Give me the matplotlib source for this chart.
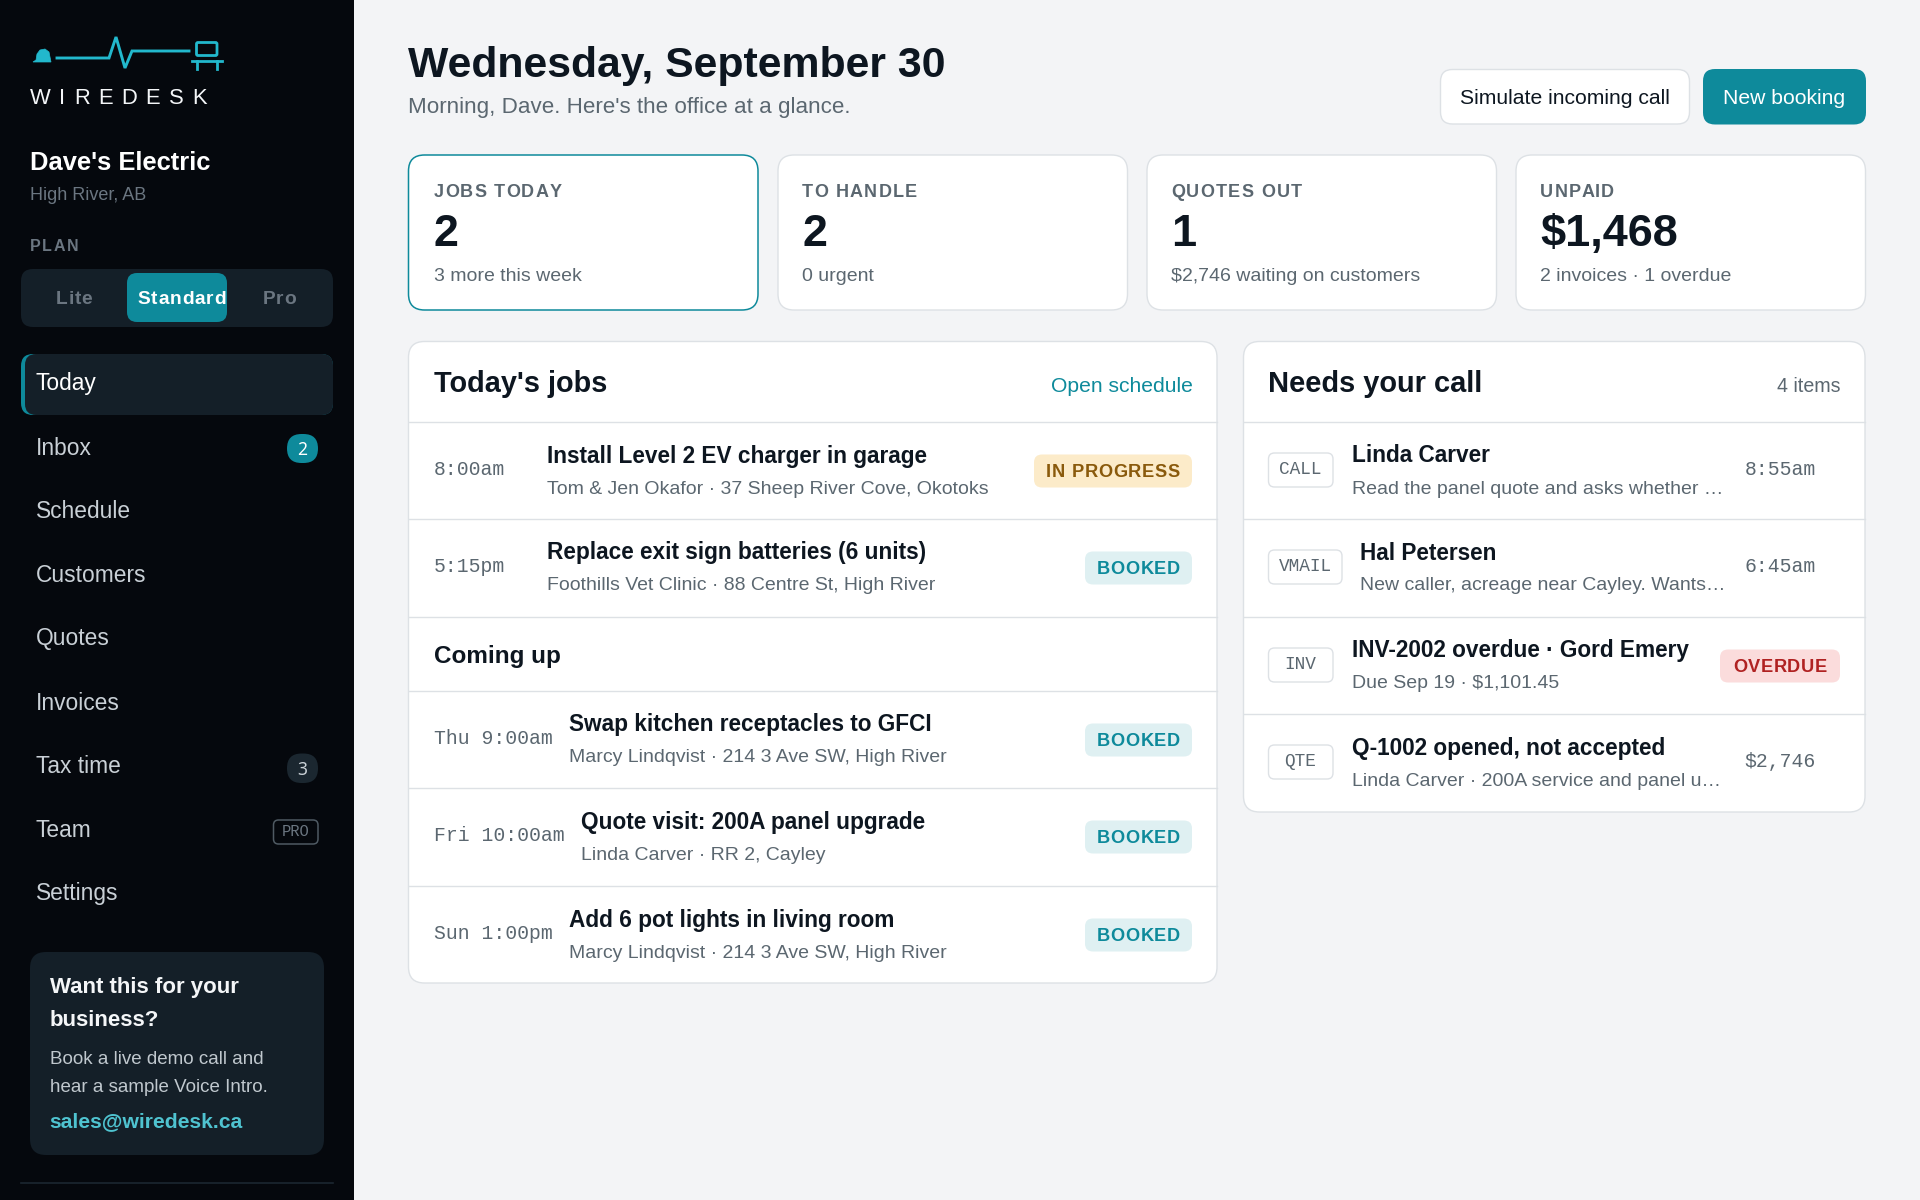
from matplotlib.patches import FancyBboxPatch, Polygon
from matplotlib.font_manager import FontProperties
import matplotlib.pyplot as plt

# text content of the screen
nav_labels = ['Today', 'Inbox', 'Schedule', 'Customers', 'Quotes', 'Invoices', 'Tax time', 'Team', 'Settings']
plan_labels = ['Lite', 'Standard', 'Pro']
stat_labels = ['JOBS TODAY', 'TO HANDLE', 'QUOTES OUT', 'UNPAID']
stat_values = ['2', '2', '1', '$1,468']
stat_subs = ['3 more this week', '0 urgent', '$2,746 waiting on customers', '2 invoices · 1 overdue']

today_times = ['8:00am', '5:15pm']
today_titles = ['Install Level 2 EV charger in garage', 'Replace exit sign batteries (6 units)']
today_subs = ['Tom & Jen Okafor · 37 Sheep River Cove, Okotoks', 'Foothills Vet Clinic · 88 Centre St, High River']
today_status = ['IN PROGRESS', 'BOOKED']

later_times = ['Thu 9:00am', 'Fri 10:00am', 'Sun 1:00pm']
later_titles = ['Swap kitchen receptacles to GFCI', 'Quote visit: 200A panel upgrade', 'Add 6 pot lights in living room']
later_subs = ['Marcy Lindqvist · 214 3 Ave SW, High River', 'Linda Carver · RR 2, Cayley', 'Marcy Lindqvist · 214 3 Ave SW, High River']
later_status = ['BOOKED', 'BOOKED', 'BOOKED']

call_tags = ['CALL', 'VMAIL', 'INV', 'QTE']
call_titles = ['Linda Carver', 'Hal Petersen', 'INV-2002 overdue · Gord Emery', 'Q-1002 opened, not accepted']
call_subs = ['Read the panel quote and asks whether …', 'New caller, acreage near Cayley. Wants…',
             'Due Sep 19 · $1,101.45', 'Linda Carver · 200A service and panel u…']
call_right = ['8:55am', '6:45am', 'OVERDUE', '$2,746']

# colours
SIDE = '#05080d'
SIDE2 = '#141f28'
BG = '#f3f4f6'
TEAL = '#0e8a9b'
LINE = '#dde1e5'
INK = '#0d1620'
GREY = '#5b6770'
MUTED = '#6b7681'
SANS = 'Liberation Sans'
MONO = 'Liberation Mono'

fig = plt.figure(figsize=(19.2, 12), dpi=100, facecolor=BG)
ax = fig.add_axes([0, 0, 1, 1])
ax.set_xlim(0, 1920)
ax.set_ylim(1200, 0)
ax.axis('off')
renderer = fig.canvas.get_renderer()


def box(x0, y0, x1, y1, r, fc, ec='none', lw=0, z=1):
    p = FancyBboxPatch((x0, y0), x1 - x0, y1 - y0, boxstyle=f'round,pad=0,rounding_size={r}',
                       fc=fc, ec=ec, lw=lw, zorder=z)
    ax.add_patch(p)
    return p


def txt(x, y, s, px, color=INK, weight='normal', family=SANS, ha='left', spacing=0):
    # px is css-like font size, baseline anchored; spacing is extra px between letters
    size = px * 0.72
    if not spacing:
        ax.text(x, y, s, fontsize=size, color=color, fontweight=weight, family=family,
                ha=ha, va='baseline', zorder=5)
        return
    prop = FontProperties(family=family, weight=weight, size=size)
    widths = [renderer.get_text_width_height_descent(s[:i], prop, False)[0] if i else 0 for i in range(len(s) + 1)]
    total = widths[-1] + spacing * (len(s) - 1)
    x0 = x - total / 2 if ha == 'center' else x - total if ha == 'right' else x
    for i, ch in enumerate(s):
        ax.text(x0 + widths[i] + spacing * i, y, ch, fontsize=size, color=color, fontweight=weight,
                family=family, ha='left', va='baseline', zorder=5)


def status_badge(x1, yc, label):
    styles = {'IN PROGRESS': ('#fcebc9', '#8a5a0c', 158), 'BOOKED': ('#dff0f2', TEAL, 107),
              'OVERDUE': ('#fbdcdc', '#b02222', 120)}
    fc, tc, w = styles[label]
    box(x1 - w, yc - 16.5, x1, yc + 16.5, 8, fc, z=3)
    txt(x1 - w / 2, yc + 6, label, 18.3, tc, 'bold', ha='center', spacing=0.65)


# sidebar
ax.add_patch(plt.Rectangle((0, 0), 354, 1200, fc=SIDE, ec='none', zorder=0))

# logo
CY = '#22b8cc'
ax.plot([57, 109, 116, 125, 132, 189], [58, 58, 37, 68, 51, 51], color=CY, lw=2.1, solid_joinstyle='miter', zorder=3)
ax.add_patch(Polygon([(33, 62), (36, 60), (37, 54), (40, 50), (45, 49), (49, 52), (50, 57), (51, 62)], fc=CY, ec=CY, lw=0.5, zorder=3))
box(196.5, 42.5, 217, 55.5, 1.5, 'none', CY, 2.0, z=3)
ax.plot([192, 222], [61, 61], color=CY, lw=2.0, zorder=3)
ax.plot([197, 197], [61, 69], color=CY, lw=2.0, zorder=3)
ax.plot([217, 217], [61, 69], color=CY, lw=2.0, zorder=3)
txt(30, 104, 'WIREDESK', 22, '#f4f6f8', spacing=8.5)

txt(30, 170, "Dave's Electric", 25.5, '#ffffff', 'bold')
txt(30, 200, 'High River, AB', 18, MUTED)
txt(30, 251, 'PLAN', 16, MUTED, 'bold', spacing=1.5)

# plan switch
box(21, 269, 333, 327, 12, SIDE2)
box(127, 273, 227, 322, 10, TEAL, z=2)
for cx, lab in zip([74, 181.5, 279], plan_labels):
    txt(cx, 304, lab, 19.2, '#ffffff' if lab == 'Standard' else MUTED, 'bold', ha='center', spacing=0.8)

# nav
box(21, 354, 333, 415, 12, TEAL)
box(25, 354, 333, 415, 11, SIDE2, z=2)
nav_base = [390, 455, 518, 582, 645, 710, 773, 837, 900]
for i, (lab, y) in enumerate(zip(nav_labels, nav_base)):
    txt(36, y, lab, 22.7, '#ffffff' if i == 0 else '#c9d0d6')
box(287, 434, 318, 463, 14.5, TEAL, z=3)
txt(302.5, 455, '2', 17.5, '#ffffff', family='Noto Sans', ha='center')
box(287, 753.5, 318, 783, 14.5, '#1b2730', z=3)
txt(302.5, 775, '3', 17.5, '#c9d0d6', family='Noto Sans', ha='center')
box(273.5, 820, 318, 844, 5, 'none', '#4f5a63', 1.1, z=3)
txt(295.5, 836, 'PRO', 15.5, MUTED, family=MONO, ha='center')

# promo card
box(30, 952, 324, 1155, 16, SIDE2)
txt(49.5, 993, 'Want this for your', 22.3, '#f4f6f8', 'bold')
txt(49.5, 1026, 'business?', 22.3, '#f4f6f8', 'bold')
txt(49.5, 1064, 'Book a live demo call and', 18.8, '#c0c8ce')
txt(49.5, 1092.5, 'hear a sample Voice Intro.', 18.8, '#c0c8ce')
txt(49, 1127.5, 'sales@wiredesk.ca', 21.1, '#4fc3d0', 'bold')
ax.plot([21, 333], [1182.5, 1182.5], color='#1b2730', lw=1.2, zorder=2)

# header
txt(408, 77, 'Wednesday, September 30', 42.8, INK, 'bold')
txt(408, 113.5, "Morning, Dave. Here's the office at a glance.", 22.4, GREY)
box(1440.5, 69.5, 1689.5, 124, 12, '#ffffff', LINE, 1.0)
txt(1565, 104, 'Simulate incoming call', 21.1, INK, ha='center')
box(1703, 69, 1866, 124.5, 12, TEAL)
txt(1784.5, 104, 'New booking', 21.1, '#ffffff', ha='center')

# stat cards
stat_x = [408, 777.5, 1146.5, 1515.5]
for i, x in enumerate(stat_x):
    ec, lw = (TEAL, 1.1) if i == 0 else (LINE, 1.0)
    tx = x + 25 - (0.5 if i else 0) + (0.5 if i == 0 else 0)
    box(x + 0.5, 155, x + 350, 310, 16, '#ffffff', ec, lw)
    txt(tx, 197, stat_labels[i], 18, GREY, 'bold', spacing=1.25)
    txt(tx, 246, stat_values[i], 45, INK, 'bold')
    txt(tx, 281, stat_subs[i], 19.5, GREY)

# today's jobs panel
box(408.5, 341.5, 1217, 983, 16, '#ffffff', LINE, 1.0)
for y in [422, 519, 617, 691, 788, 886]:
    ax.plot([409, 1217], [y, y], color=LINE, lw=1.0, zorder=2)
txt(433.5, 392, "Today's jobs", 28.9, INK, 'bold')
txt(1193, 392, 'Open schedule', 21.1, TEAL, ha='right')
txt(433.5, 663.5, 'Coming up', 24.3, INK, 'bold')


def job_row(top, tx, time, title, sub, status):
    txt(433.5, top + 53, time, 19.8, GREY, family=MONO)
    txt(tx, top + 40.5, title, 22.6, INK, 'bold')
    txt(tx, top + 71.5, sub, 19.5, GREY)
    status_badge(1192, top + 49, status)


for top, t, ti, su, st in zip([422, 519], today_times, today_titles, today_subs, today_status):
    job_row(top, 547, t, ti, su, st)
for top, tx, t, ti, su, st in zip([691, 788, 886], [569, 581, 569], later_times, later_titles, later_subs, later_status):
    job_row(top, tx, t, ti, su, st)

# needs your call panel
box(1243.5, 341.5, 1865, 812, 16, '#ffffff', LINE, 1.0)
for y in [422, 519, 617, 714]:
    ax.plot([1244, 1865], [y, y], color=LINE, lw=1.0, zorder=2)
txt(1268, 392, 'Needs your call', 29, INK, 'bold')
txt(1840.5, 392, '4 items', 19.6, GREY, ha='right')

for i, top in enumerate([422, 519, 617, 714]):
    w = 74 if call_tags[i] == 'VMAIL' else 65
    box(1268.5, top + 31, 1268 + w, top + 65, 6, '#ffffff', LINE, 1.0, z=3)
    txt(1268 + w / 2, top + 52, call_tags[i], 17.8, GREY, family=MONO, ha='center')
    tx = 1360.5 if call_tags[i] == 'VMAIL' else 1352
    txt(tx, top + 40.5, call_titles[i], 22.6, INK, 'bold')
    txt(tx, top + 71.5, call_subs[i], 19.5, GREY)
    if call_right[i] == 'OVERDUE':
        status_badge(1840, top + 49, call_right[i])
    else:
        txt(1744.5, top + 53, call_right[i], 19.8, GREY, family=MONO)

fig.savefig('out.png', dpi=100, facecolor=BG)
